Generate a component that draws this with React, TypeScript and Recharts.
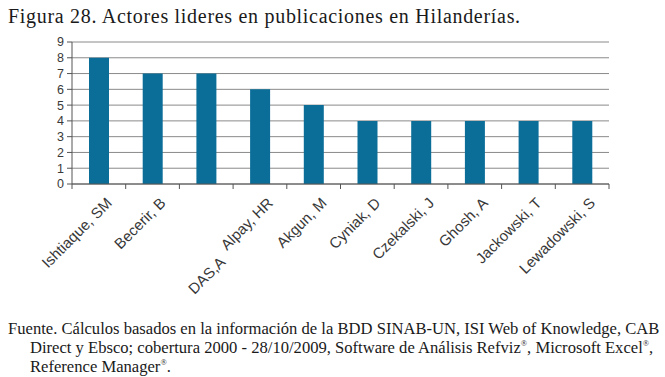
import React from "react";
import { BarChart, Bar, XAxis, YAxis, CartesianGrid } from "recharts";

const categories: string[] = [
  "Ishtiaque, SM",
  "Becerir, B",
  "\n\nDAS,A\u00a0\u00a0\u00a0\u00a0\u00a0\u00a0\u00a0\u00a0\u00a0",
  "Alpay, HR",
  "Akgun, M",
  "Cyniak, D",
  "Czekalski, J",
  "Ghosh, A",
  "Jackowski, T",
  "Lewadowski, S",
];
const publicaciones: number[] = [8, 7, 7, 6, 5, 4, 4, 4, 4, 4];
const yTicks: number[] = [0, 1, 2, 3, 4, 5, 6, 7, 8, 9];

const titleText = "Figura 28. Actores lideres en publicaciones en Hilanderías.";
const sourceLines: string[] = [
  "Fuente. Cálculos basados en la información de la BDD SINAB-UN, ISI Web of Knowledge, CAB",
  "Direct y Ebsco; cobertura 2000 - 28/10/2009, Software de Análisis Refviz®, Microsoft Excel®,",
  "Reference Manager®.",
];

const data = categories.map((name, i) => ({ name, value: publicaciones[i] }));

const PLOT_LEFT = 72;
const PLOT_RIGHT = 609;
const BAND = (PLOT_RIGHT - PLOT_LEFT) / categories.length;

const XTick = (props: any) => {
  const { x, y, payload, index } = props;
  const lines = String(payload.value).split("\n");
  const half = BAND / 2;
  return (
    <g>
      <line x1={x - half} x2={x - half} y1={y} y2={y + 5} stroke="#555" strokeWidth={1} />
      {index === categories.length - 1 && (
        <line x1={x + half} x2={x + half} y1={y} y2={y + 5} stroke="#555" strokeWidth={1} />
      )}
      <g transform={`translate(${x + 14},${y + 20}) rotate(-45)`}>
        {lines.map((l, i) =>
          l ? (
            <text
              key={i}
              x={0}
              y={i * 23}
              textAnchor="end"
              fontFamily="'Liberation Sans', Arial, sans-serif"
              fontSize={15}
              fill="#383838"
              style={{ whiteSpace: "pre" }}
            >
              {l}
            </text>
          ) : null
        )}
      </g>
    </g>
  );
};

const renderWithMarks = (line: string) => {
  const parts = line.split("®");
  const out: React.ReactNode[] = [];
  parts.forEach((p, i) => {
    out.push(<span key={"t" + i}>{p}</span>);
    if (i < parts.length - 1) {
      out.push(
        <span
          key={"r" + i}
          style={{ fontSize: "0.5em", position: "relative", top: "-0.8em", lineHeight: 0 }}
        >
          ®
        </span>
      );
    }
  });
  return out;
};

export default function App() {
  return (
    <div
      style={{
        position: "absolute",
        left: 0,
        top: 0,
        width: 665,
        height: 377,
        background: "#ffffff",
        overflow: "hidden",
      }}
    >
      <div
        style={{
          position: "absolute",
          left: 8,
          top: 4,
          fontFamily: "'Liberation Serif', 'Times New Roman', serif",
          fontSize: 20,
          letterSpacing: 0.7,
          lineHeight: "24px",
          color: "#1a1a1a",
          whiteSpace: "nowrap",
        }}
      >
        {titleText}
      </div>
      <div style={{ position: "absolute", left: 0, top: 0 }}>
        <BarChart
          width={665}
          height={377}
          data={data}
          margin={{ top: 42, right: 665 - PLOT_RIGHT, bottom: 0, left: PLOT_LEFT - 30 }}
          barSize={20}
        >
          <CartesianGrid vertical={false} stroke="#8a8a8a" strokeWidth={1} />
          <XAxis
            dataKey="name"
            interval={0}
            height={193}
            tickLine={false}
            tickSize={0}
            tickMargin={0}
            axisLine={{ stroke: "#555", strokeWidth: 1 }}
            tick={<XTick />}
          />
          <YAxis
            width={30}
            domain={[0, 9]}
            ticks={yTicks}
            interval={0}
            tickSize={5}
            tickMargin={3}
            axisLine={{ stroke: "#555", strokeWidth: 1 }}
            tickLine={{ stroke: "#555" }}
            tick={{ fontSize: 12.5, fill: "#3a3a3a", fontFamily: "'Liberation Sans', Arial, sans-serif" }}
          />
          <Bar dataKey="value" fill="#0b6e99" isAnimationActive={false} />
        </BarChart>
      </div>
      <div
        style={{
          position: "absolute",
          left: 8,
          top: 319,
          fontFamily: "'Liberation Serif', 'Times New Roman', serif",
          fontSize: 16.6,
          lineHeight: "19px",
          color: "#1a1a1a",
          whiteSpace: "nowrap",
        }}
      >
        {sourceLines.map((l, i) => (
          <div key={i} style={{ paddingLeft: i === 0 ? 0 : 22, height: 19 }}>
            {renderWithMarks(l)}
          </div>
        ))}
      </div>
    </div>
  );
}
